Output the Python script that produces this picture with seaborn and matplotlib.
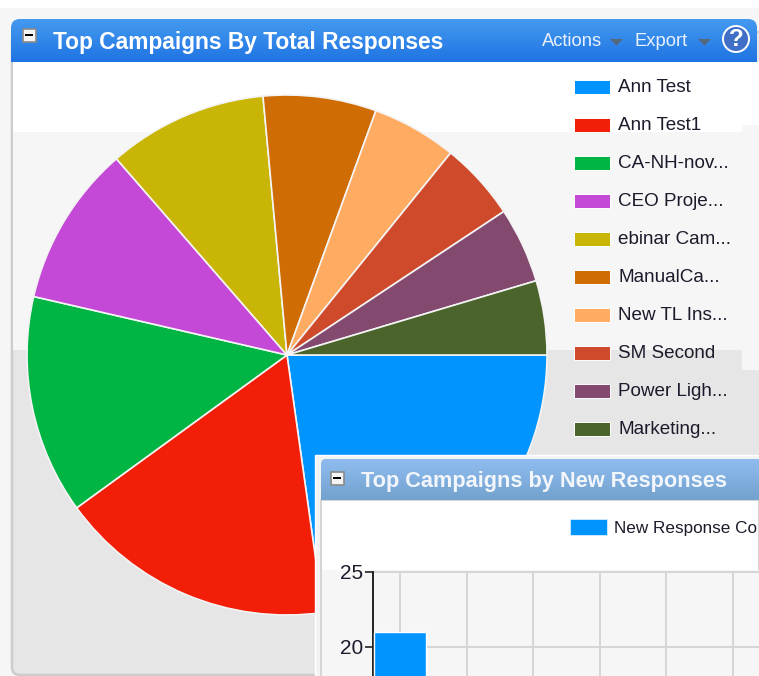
import numpy as np
import matplotlib
matplotlib.use("Agg")
import matplotlib.pyplot as plt
from matplotlib.patches import Rectangle, FancyBboxPatch, Circle, Polygon
from matplotlib.colors import LinearSegmentedColormap
import seaborn as sns

W, H = 759, 676

# Total responses per campaign (slice shares)
campaigns = ["Ann Test", "Ann Test1", "CA-NH-nov...", "CEO Proje...", "ebinar Cam...",
             "ManualCa...", "New TL Ins...", "SM Second", "Power Ligh...", "Marketing..."]
total_responses = [82, 62, 49, 36, 35.7, 25.3, 19, 17.5, 16.9, 16.6]
campaign_colors = ["#0094ff", "#f21e07", "#00b543", "#c449d6", "#c8b505",
                   "#cf6d04", "#ffab62", "#cf4a2a", "#84496f", "#4a642b"]

# New responses per campaign; only the first column rises into the visible area
new_campaigns = ["A", "B", "C", "D", "E", "F"]
shown_campaigns = ["A"]
new_responses = [21]

sns.set_theme(style="white")
plt.rcParams["font.family"] = ["Liberation Sans", "DejaVu Sans"]

fig = plt.figure(figsize=(W / 100, H / 100), dpi=100, facecolor="white")


def px_axes(x0, y0, x1, y1, z):
    """Axes placed by pixel box, with y measured from the top edge."""
    ax = fig.add_axes([x0 / W, 1 - y1 / H, (x1 - x0) / W, (y1 - y0) / H], zorder=z)
    return ax


def gradient_bar(ax, x0, y0, x1, y1, top, bottom, radius, z):
    """Rounded-top title bar filled with a vertical gradient."""
    cmap = LinearSegmentedColormap.from_list("bar", [top, bottom])
    img = ax.imshow(np.linspace(0, 1, 64)[:, None], extent=(x0, x1, y1, y0), cmap=cmap,
                    aspect="auto", zorder=z)
    clip = FancyBboxPatch((x0 + radius, y0 + radius), x1 - x0 - 2 * radius, (y1 - y0) + 20,
                          boxstyle=f"round,pad={radius}", transform=ax.transData,
                          facecolor="none", edgecolor="none")
    ax.add_patch(clip)
    img.set_clip_path(clip)


def collapse_button(ax, cx, cy, z):
    ax.add_patch(Rectangle((cx - 6.5, cy - 6.5), 13, 13, fc="#f4f4f4", ec="#8a8a8a", lw=1.2, zorder=z))
    ax.add_patch(Rectangle((cx - 4, cy - 1), 8, 2.2, fc="black", ec="none", zorder=z + 0.1))


# Page and outer panel backdrop
back = px_axes(0, 0, W, H, 0)
back.set_axis_off()
back.add_patch(Rectangle((0, 8), W, H - 8, fc="#f6f6f6", ec="none"))
back.add_patch(FancyBboxPatch((20, 40), W, 627, boxstyle="round,pad=8",
                              fc="#e6e6e6", ec="#cccccc", lw=1.8, zorder=1))
back.add_patch(Rectangle((12.5, 132), 729.5, 218, fc="#f6f6f6", ec="none", zorder=2))
back.add_patch(Rectangle((742, 125), W - 742, 245, fc="#f6f6f6", ec="none", zorder=2))
back.add_patch(Rectangle((12.5, 62), 729.5, 70, fc="white", ec="none", zorder=2))
back.add_patch(Rectangle((742, 62), W - 742, 63, fc="white", ec="none", zorder=2))
gradient_bar(back, 11, 19, 757, 62, "#449aef", "#1f74e3", 9, 3)
collapse_button(back, 29, 35, 4)
back.text(53, 42, "Top Campaigns By Total Responses", color="white", fontsize=16.4,
          fontweight="bold", va="center", ha="left", zorder=4)
back.text(542, 41.5, "Actions", color="#e8f1fc", fontsize=13.2, va="center", ha="left", zorder=4)
back.text(634, 41.5, "Export", color="#e8f1fc", fontsize=13.2, va="center", ha="left", zorder=4)
for tx in (610, 698):
    back.add_patch(Polygon([[tx, 39], [tx + 13, 39], [tx + 6.5, 45.5]], fc="#56687c", ec="none", zorder=4))
back.add_patch(Circle((736, 39), 13, fc="#3f6fc6", ec="white", lw=1.4, zorder=4))
back.text(736, 39.5, "?", color="white", fontsize=17.5, fontweight="bold", ha="center", va="center", zorder=5)
back.set_xlim(0, W)
back.set_ylim(H, 0)

# Pie of total responses
pie_ax = px_axes(27, 95, 547, 615, 1)
pie_ax.pie(total_responses, colors=sns.color_palette(campaign_colors), startangle=0, counterclock=False,
           radius=1, wedgeprops=dict(edgecolor="#f4f4f4", linewidth=1.2))
pie_ax.set_xlim(-1, 1)
pie_ax.set_ylim(-1, 1)
pie_ax.set_aspect("auto")
for patch in pie_ax.patches:
    patch.set_clip_on(False)

# Campaign key to the right of the pie
key = px_axes(0, 0, W, H, 2)
key.set_axis_off()
key.patch.set_alpha(0)
key.set_xlim(0, W)
key.set_ylim(H, 0)
for row, (name, color) in enumerate(zip(campaigns, campaign_colors)):
    cy = 87 + 38 * row
    key.add_patch(Rectangle((573.5, cy - 7), 36.5, 14, fc=color, ec="white", lw=0.7))
    key.text(618, cy + 1, name, fontsize=13.6, color="#1b1b2b", va="center", ha="left")

# Overlapping panel frame
over = px_axes(0, 0, W, H, 3)
over.set_axis_off()
over.patch.set_alpha(0)
over.add_patch(Rectangle((315, 455), W - 315, H - 455, fc="#f3f3f3", ec="white", lw=1))
over.add_patch(Rectangle((321, 500), W - 321, H - 500, fc="white", ec="#d0d0d0", lw=1.2))
over.add_patch(Rectangle((322, 570), W - 322, H - 570, fc="#f6f6f6", ec="none"))
gradient_bar(over, 321, 459, W + 12, 500, "#8ebcef", "#74a2ce", 5, 2)
collapse_button(over, 337, 478, 3)
over.text(361, 482, "Top Campaigns by New Responses", color="#f2f6fb", fontsize=15.7,
          fontweight="bold", va="center", ha="left", zorder=3)
over.add_patch(Rectangle((570, 519), 37, 16, fc="#0094ff", ec="#d8ecff", lw=0.6, zorder=3))
over.text(614, 528, "New Response Co", fontsize=12.3, color="#1b1b2b", va="center", ha="left", zorder=3)
over.set_xlim(0, W)
over.set_ylim(H, 0)

# Column chart, cut off by the window edge on the right and at the bottom
bars = px_axes(373, 571.5, W, H, 4)
bars.patch.set_alpha(0)
sns.barplot(x=shown_campaigns, y=new_responses, order=new_campaigns, color="#0094ff",
            saturation=1, width=0.78, ax=bars, zorder=3)
bars.set_xlim(-27 / 66.5, (W - 400) / 66.5)
bars.set_ylim(25 - (H - 571.5) / 75 * 5, 25)
bars.set_yticks([20, 25])
bars.set_xticks(range(len(new_campaigns)))
bars.set_xticklabels([])
bars.set_xlabel("")
bars.set_ylabel("")
bars.grid(True, color="#d6d6d6", linewidth=1.4, zorder=0)
bars.set_axisbelow(True)
bars.tick_params(axis="y", left=True, length=6, width=1.2, color="#222222", pad=1,
                 labelsize=15, labelcolor="#1b1b2b")
bars.tick_params(axis="x", bottom=False)
for side in ("top", "right", "bottom"):
    bars.spines[side].set_visible(False)
bars.spines["left"].set_color("#222222")
bars.spines["left"].set_linewidth(1.4)
# Top gridline is drawn on the axes boundary, so leave it unclipped
for line in bars.get_ygridlines():
    line.set_clip_on(False)

fig.savefig("out.png", dpi=100, facecolor="white")
